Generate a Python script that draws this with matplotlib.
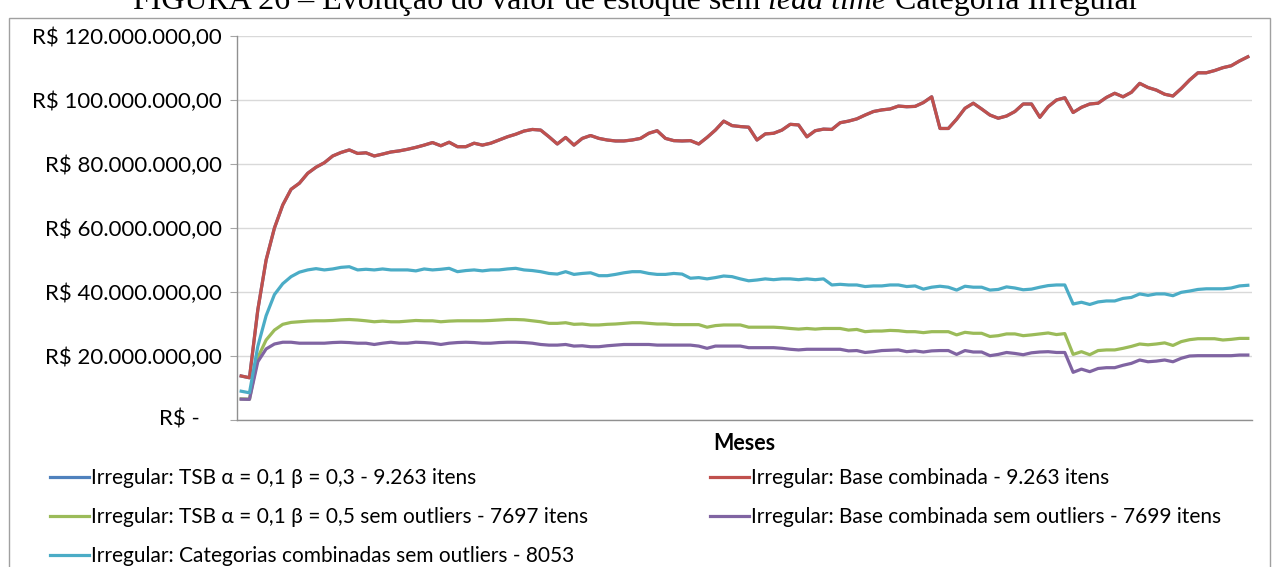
import numpy as np
import matplotlib.pyplot as plt
from matplotlib.patches import Rectangle

plt.rcParams['font.family'] = ['Lato', 'DejaVu Sans']

# valor do estoque por mês, em milhões de R$
base_comb = [
    13.75, 13.2, 34.4, 50.0, 60.0, 67.2,
    72.1, 74.0, 77.1, 79.0, 80.4,
    82.5, 83.6, 84.4, 83.3, 83.5,
    82.5, 83.1, 83.75, 84.1, 84.6,
    85.2, 85.9, 86.7, 85.7, 86.8,
    85.4, 85.4, 86.5, 85.9, 86.5,
    87.5, 88.5, 89.3, 90.3, 90.8,
    90.6, 88.5, 86.25, 88.3, 85.9,
    88.0, 88.9, 88.0, 87.5, 87.2,
    87.2, 87.5, 88.0, 89.6, 90.4,
    88.0, 87.3, 87.2, 87.3, 86.25,
    88.3, 90.6, 93.4, 92.0, 91.7,
    91.5, 87.5, 89.4, 89.6, 90.6,
    92.4, 92.2, 88.5, 90.4, 90.9,
    90.8, 92.9, 93.4, 94.1, 95.3,
    96.4, 96.9, 97.2, 98.1, 97.9,
    98.0,
    99.2, 101.0, 91.1, 91.1, 94.0,
    97.4, 99.0, 97.2, 95.3, 94.3,
    95.0, 96.4, 98.75, 98.75, 94.6,
    97.9, 100.0, 100.7, 96.1, 97.7,
    98.75, 99.0, 100.8, 102.1, 101.0,
    102.4, 105.2, 103.9, 103.1, 101.8,
    101.25, 103.6, 106.25, 108.5, 108.5,
    109.2, 110.1, 110.7, 112.2, 113.5,
]

# TSB beta 0,3 coincide com a base combinada
tsb_b03 = list(base_comb)

cat_comb = [
    9.0, 8.5, 23.0, 32.6, 39.2, 42.6,
    44.8, 46.2, 46.9, 47.3, 46.9,
    47.2, 47.7, 47.9, 46.9, 47.1,
    46.9, 47.2, 46.9, 46.9, 46.9,
    46.6, 47.2, 46.9, 47.1, 47.4,
    46.35, 46.7, 46.9, 46.6, 46.9,
    46.9, 47.2, 47.4, 46.9, 46.7,
    46.35, 45.8, 45.6, 46.35, 45.5,
    45.8, 46.0, 45.1, 45.1, 45.5,
    46.0, 46.35, 46.35, 45.8, 45.5,
    45.5, 45.8, 45.6, 44.3, 44.5,
    44.1, 44.5, 45.0, 44.8, 44.1,
    43.5, 43.75, 44.1, 43.85, 44.1,
    44.1, 43.85, 44.1, 43.85, 44.1,
    42.2, 42.4, 42.2, 42.2, 41.7,
    41.9, 41.9, 42.2, 42.2, 41.7,
    41.9,
    40.9, 41.5, 41.8, 41.5, 40.6,
    41.8, 41.5, 41.5, 40.6, 40.8,
    41.6, 41.25, 40.7, 40.9, 41.5,
    42.0, 42.2, 42.2, 36.25, 36.8,
    36.1, 36.9, 37.2, 37.2, 38.0,
    38.3, 39.4, 38.96, 39.4, 39.4,
    38.85, 39.9, 40.3, 40.8, 41.0,
    41.0, 41.0, 41.25, 41.9, 42.1,
]

tsb_b05 = [
    6.6, 6.5, 19.5, 25.0, 28.1, 29.9,
    30.5, 30.7, 30.9, 31.0, 31.0,
    31.1, 31.3, 31.4, 31.25, 31.0,
    30.7, 30.9, 30.7, 30.7, 30.9,
    31.1, 31.0, 31.0, 30.7, 30.9,
    31.0, 31.0, 31.0, 31.0, 31.1,
    31.25, 31.4, 31.4, 31.3, 31.0,
    30.7, 30.2, 30.2, 30.4, 29.9,
    30.0, 29.7, 29.7, 29.9, 30.0,
    30.2, 30.4, 30.4, 30.2, 30.0,
    30.0, 29.8, 29.8, 29.8, 29.8,
    29.0, 29.5, 29.7, 29.7, 29.7,
    29.0, 29.0, 29.0, 29.0, 28.85,
    28.6, 28.4, 28.6, 28.4, 28.6,
    28.6, 28.6, 28.1, 28.3, 27.6,
    27.8, 27.8, 28.0, 27.9, 27.6,
    27.6,
    27.3, 27.6, 27.6, 27.6, 26.6,
    27.4, 27.1, 27.1, 26.1, 26.35,
    26.9, 26.9, 26.35, 26.6, 26.9,
    27.2, 26.7, 27.0, 20.5, 21.35,
    20.4, 21.7, 21.9, 21.9, 22.4,
    23.0, 23.75, 23.5, 23.75, 24.1,
    23.3, 24.5, 25.1, 25.4, 25.4,
    25.4, 25.0, 25.2, 25.5, 25.5,
]

base_sem_out = [
    6.5, 6.45, 18.2, 22.2, 23.75, 24.3,
    24.3, 24.0, 24.0, 24.0, 24.0,
    24.2, 24.3, 24.2, 24.0, 24.0,
    23.6, 24.0, 24.3, 24.0, 24.0,
    24.3, 24.2, 24.0, 23.6, 24.0,
    24.2, 24.3, 24.2, 24.0, 24.0,
    24.2, 24.3, 24.3, 24.2, 24.0,
    23.6, 23.4, 23.4, 23.6, 23.1,
    23.2, 22.9, 22.9, 23.2, 23.4,
    23.6, 23.6, 23.6, 23.6, 23.4,
    23.4, 23.4, 23.4, 23.4, 23.1,
    22.4, 23.1, 23.1, 23.1, 23.1,
    22.6, 22.6, 22.6, 22.6, 22.4,
    22.1, 21.9, 22.1, 22.1, 22.1,
    22.1, 22.1, 21.6, 21.7, 21.1,
    21.35, 21.7, 21.8, 21.9, 21.35,
    21.6,
    21.25, 21.6, 21.7, 21.7, 20.5,
    21.7, 21.25, 21.25, 20.1, 20.5,
    21.1, 20.8, 20.4, 21.0, 21.25,
    21.35, 21.1, 21.1, 14.9, 15.9,
    15.1, 16.1, 16.35, 16.35, 17.1,
    17.7, 18.75, 18.2, 18.4, 18.75,
    18.2, 19.3, 20.0, 20.1, 20.1,
    20.1, 20.1, 20.1, 20.3, 20.3,
]

series = [
    ('Irregular: TSB α = 0,1 β = 0,3 - 9.263 itens', tsb_b03, '#4F81BD'),
    ('Irregular: Base combinada - 9.263 itens', base_comb, '#C0504D'),
    ('Irregular: TSB α = 0,1 β = 0,5 sem outliers - 7697 itens', tsb_b05, '#9BBB59'),
    ('Irregular: Base combinada sem outliers - 7699 itens', base_sem_out, '#8064A2'),
    ('Irregular: Categorias combinadas sem outliers - 8053', cat_comb, '#4BACC6'),
]

y_ticks = [0, 20e6, 40e6, 60e6, 80e6, 100e6, 120e6]


def reais(v):
    if v == 0:
        return ''
    s = f'{v:,.2f}'.replace(',', 'X').replace('.', ',').replace('X', '.')
    return 'R$ ' + s


W, H = 1272, 567
fig = plt.figure(figsize=(W / 100, H / 100), dpi=100)
ax = fig.add_axes([237 / W, 1 - 420 / H, (1252 - 237) / W, (420 - 36) / H])

meses = np.arange(len(base_comb))
lines = {}
for label, vals, color in series:
    ln, = ax.plot(meses, np.array(vals) * 1e6, color=color, lw=2.3,
                  solid_joinstyle='round', label=label)
    lines[label] = ln

ax.set_xlim(-0.5, len(meses) - 0.5)
ax.set_ylim(0, 120e6)
ax.set_yticks(y_ticks, [reais(v) for v in y_ticks])
ax.yaxis.grid(True, color='#D9D9D9', lw=1)
ax.set_axisbelow(True)
ax.tick_params(axis='y', length=5, width=0.8, color='#A6A6A6', pad=6,
               labelsize=16, labelcolor='black')
ax.tick_params(axis='x', bottom=False, labelbottom=False)
for side in ['top', 'right']:
    ax.spines[side].set_visible(False)
for side in ['left', 'bottom']:
    ax.spines[side].set_color('#909090')
    ax.spines[side].set_linewidth(1)

# rótulo do zero no formato contábil
ax.annotate('R$ -', xy=(0, 0), xycoords=('axes fraction', 'data'),
            xytext=(-37, 0), textcoords='offset pixels',
            ha='right', va='center', fontsize=16)

fig.text(744.5 / W, 1 - 443 / H, 'Meses', ha='center', va='center',
         fontsize=15.5, fontweight='bold')

# legenda em duas colunas
labels = [s[0] for s in series]
col1 = [labels[0], labels[2], labels[4]]
col2 = [labels[1], labels[3]]
leg_kw = dict(frameon=False, fontsize=15, loc='upper left', borderpad=0,
              borderaxespad=0, handlelength=1.85, handletextpad=0.1,
              labelspacing=0.92)
leg1 = fig.legend([lines[l] for l in col1], col1,
                  bbox_to_anchor=(50 / W, 1 - 468 / H), **leg_kw)
leg2 = fig.legend([lines[l] for l in col2], col2,
                  bbox_to_anchor=(710 / W, 1 - 468 / H), **leg_kw)

# moldura do gráfico
fig.add_artist(Rectangle((9 / W, -0.05), (1270 - 9) / W, 1.05 - 18 / H,
                         transform=fig.transFigure, fill=False,
                         edgecolor='#A0A0A0', lw=1))

# título da figura (cortado no topo)
renderer = fig.canvas.get_renderer()
parts = [('FIGURA 26 – Evolução do valor de estoque sem', 'normal'),
         ('lead time', 'italic'),
         ('Categoria Irregular', 'normal')]
x = 133 / W
for txt, style in parts:
    t = fig.text(x, 1 - 9 / H, txt, fontsize=23, family='Liberation Serif',
                 style=style, va='baseline', ha='left')
    x += (t.get_window_extent(renderer).width + 8) / W

fig.savefig('out.png', dpi=100)
